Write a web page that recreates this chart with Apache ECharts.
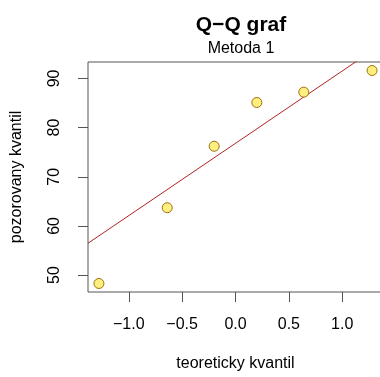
<!DOCTYPE html>
<html>
<head>
<meta charset="utf-8">
<script src="https://cdn.jsdelivr.net/npm/echarts@6/dist/echarts.min.js"></script>
<style>
  html, body { margin: 0; padding: 0; background: #fff; }
  #main { width: 380px; height: 377px; }
</style>
</head>
<body>
<div id="main"></div>
<script>
// teoreticke kvantily (x) a pozorovane hodnoty (y)
let theoQ = [-1.28, -0.64, -0.20, 0.20, 0.64, 1.28];
let obsQ = [48.3, 63.7, 76.2, 85.1, 87.2, 91.6];
let xTicks = [-1.0, -0.5, 0.0, 0.5, 1.0];
let yTicks = [50, 60, 70, 80, 90];
// qqline cez kvartily
let lineIntercept = 76.8;
let lineSlope = 14.7;

let font = 'Liberation Sans, Arial, Helvetica, sans-serif';

// rozsah osi ako v R (+4 %)
function pad(arr) {
    let lo = Math.min.apply(null, arr), hi = Math.max.apply(null, arr);
    let d = (hi - lo) * 0.04;
    return [lo - d, hi + d];
}
let xr = pad(theoQ);
let yr = pad(obsQ);

let points = [];
for (let i = 0; i < theoQ.length; i++) {
    points.push([theoQ[i], obsQ[i]]);
}
let linePts = [
    [xr[0], lineIntercept + lineSlope * xr[0]],
    [xr[1], lineIntercept + lineSlope * xr[1]]
];

function fmt(v, d) {
    return v.toFixed(d).replace('-', '\u2212');
}

let myChart = echarts.init(document.getElementById('main'));
let option = {
    animation: false,
    title: {
        text: 'Q\u2212Q graf',
        subtext: 'Metoda 1',
        left: 236,
        textAlign: 'center',
        top: 10,
        itemGap: 5,
        textStyle: { fontFamily: font, fontSize: 21, fontWeight: 'bold', color: '#000' },
        subtextStyle: { fontFamily: font, fontSize: 16, color: '#000' }
    },
    grid: {
        left: 88, top: 62, width: 295, bottom: 85,
        show: true, borderColor: '#555', borderWidth: 1,
        containLabel: false,
        outerBoundsMode: 'none'
    },
    xAxis: {
        type: 'value',
        min: xr[0], max: xr[1],
        name: 'teoreticky kvantil',
        nameLocation: 'middle',
        nameGap: 64,
        nameTextStyle: { fontFamily: font, fontSize: 16, color: '#000' },
        splitLine: { show: false },
        axisLine: { show: false, onZero: false },
        axisTick: { show: true, length: 10, lineStyle: { color: '#555' }, customValues: xTicks },
        axisLabel: {
            margin: 25, fontFamily: font, fontSize: 16, color: '#000',
            customValues: xTicks,
            formatter: function (v) { return fmt(v, 1); }
        }
    },
    yAxis: {
        type: 'value',
        min: yr[0], max: yr[1],
        name: 'pozorovany kvantil',
        nameLocation: 'middle',
        nameGap: 63,
        nameTextStyle: { fontFamily: font, fontSize: 16, color: '#000' },
        splitLine: { show: false },
        axisLine: { show: false, onZero: false },
        axisTick: { show: true, length: 10, lineStyle: { color: '#555' }, customValues: yTicks },
        axisLabel: {
            margin: 25, rotate: 90, fontFamily: font, fontSize: 16, color: '#000',
            customValues: yTicks,
            formatter: function (v) { return fmt(v, 0); }
        }
    },
    series: [
        {
            type: 'line',
            data: linePts,
            symbol: 'none',
            clip: true,
            lineStyle: { color: '#B22222', width: 1 },
            z: 1
        },
        {
            type: 'scatter',
            data: points,
            symbol: 'circle',
            symbolSize: 10,
            itemStyle: { color: '#FFEF80', borderColor: '#9C6F0A', borderWidth: 1, opacity: 1 },
            z: 2
        }
    ]
};
myChart.setOption(option);
</script>
</body>
</html>
